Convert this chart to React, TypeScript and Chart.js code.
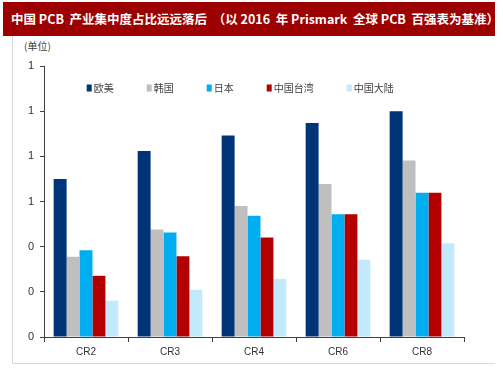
import React, { useEffect, useRef } from "react";
import { Chart, registerables } from "chart.js";

Chart.register(...registerables);

const categories = ["CR2", "CR3", "CR4", "CR6", "CR8"];
const seriesNames = ["欧美", "韩国", "日本", "中国台湾", "中国大陆"];
const westValues = [0.7, 0.824, 0.892, 0.948, 1.0];
const koreaValues = [0.355, 0.476, 0.58, 0.677, 0.782];
const japanValues = [0.384, 0.463, 0.537, 0.544, 0.639];
const taiwanValues = [0.271, 0.358, 0.441, 0.544, 0.639];
const mainlandValues = [0.161, 0.209, 0.258, 0.342, 0.415];
const seriesColors = ["#003479", "#BFBFBF", "#00AEEF", "#B40000", "#C3EAFA"];
const yMin = 0;
const yMax = 1.2;
const yStep = 0.2;
const titleText = "中国 PCB  产业集中度占比远远落后  （以 2016  年 Prismark  全球 PCB  百强表为基准）";
const unitText = "(单位)";

const legendPlugin = {
  id: "customLegend",
  afterDraw(chart: any) {
    const ctx = chart.ctx;
    const area = chart.chartArea;
    ctx.save();
    ctx.font = '10px "Noto Sans CJK SC"';
    ctx.textBaseline = "middle";
    let x = area.left + 42.7;
    const y = area.top + 22;
    chart.data.datasets.forEach((ds: any) => {
      ctx.fillStyle = ds.backgroundColor;
      ctx.fillRect(x, y - 3.5, 5, 7);
      ctx.fillStyle = "#404040";
      ctx.fillText(ds.label, x + 7, y);
      x += 7 + ctx.measureText(ds.label).width + 33;
    });
    ctx.restore();
  },
};

export default function App() {
  const canvasRef = useRef<HTMLCanvasElement | null>(null);

  useEffect(() => {
    document.body.style.margin = "0";
    const canvas = canvasRef.current;
    if (!canvas) return;
    const seriesValues = [westValues, koreaValues, japanValues, taiwanValues, mainlandValues];
    const chart = new Chart(canvas, {
      type: "bar",
      data: {
        labels: categories,
        datasets: seriesNames.map((name, i) => ({
          label: name,
          data: seriesValues[i],
          backgroundColor: seriesColors[i],
          borderWidth: 0,
          barPercentage: 1,
          categoryPercentage: 0.77,
        })),
      },
      options: {
        animation: false,
        responsive: false,
        maintainAspectRatio: false,
        layout: { padding: { top: 66, left: 0, right: 39, bottom: 0 } },
        plugins: {
          legend: { display: false },
          tooltip: { enabled: false },
          title: { display: false },
        },
        scales: {
          x: {
            afterFit(scale: any) {
              scale.height = 41;
            },
            grid: {
              drawOnChartArea: false,
              drawTicks: true,
              tickLength: 5,
              color: "#404040",
              offset: true,
            },
            border: { display: true, color: "#404040", width: 1 },
            ticks: {
              color: "#333333",
              font: { family: "'Liberation Sans', Arial", size: 10 },
              padding: 4,
            },
          },
          y: {
            min: yMin,
            max: yMax,
            afterFit(scale: any) {
              scale.width = 44;
            },
            grid: {
              drawOnChartArea: false,
              drawTicks: true,
              tickLength: 4,
              color: "#404040",
            },
            border: { display: true, color: "#404040", width: 1 },
            ticks: {
              stepSize: yStep,
              color: "#333333",
              font: { family: "'Liberation Sans', Arial", size: 11 },
              padding: 6,
              callback: (v: any) => String(Math.round(Number(v))),
            },
          },
        },
      },
      plugins: [legendPlugin],
    });
    return () => chart.destroy();
  }, []);

  return (
    <div style={{ position: "relative", width: 503, height: 378, background: "#ffffff", overflow: "hidden" }}>
      <div
        style={{
          position: "absolute",
          left: 3,
          top: 2,
          width: 492,
          height: 34,
          background: "#9C0000",
          color: "#ffffff",
          fontFamily: "'Noto Sans CJK SC', sans-serif",
          fontWeight: "bold",
          fontSize: 12.5,
          lineHeight: "34px",
          paddingLeft: 8,
          boxSizing: "border-box",
          whiteSpace: "pre",
        }}
      >
        {titleText}
      </div>
      <div style={{ position: "absolute", left: 12, top: 36, width: 1, height: 327, background: "#D9D9D9" }} />
      <div style={{ position: "absolute", left: 12, top: 363, width: 483, height: 1, background: "#D9D9D9" }} />
      <div
        style={{
          position: "absolute",
          left: 24,
          top: 38,
          fontFamily: "'Noto Sans CJK SC', sans-serif",
          fontSize: 10,
          color: "#404040",
        }}
      >
        {unitText}
      </div>
      <canvas ref={canvasRef} width={503} height={378} style={{ position: "absolute", left: 0, top: 0, width: 503, height: 378 }} />
    </div>
  );
}
